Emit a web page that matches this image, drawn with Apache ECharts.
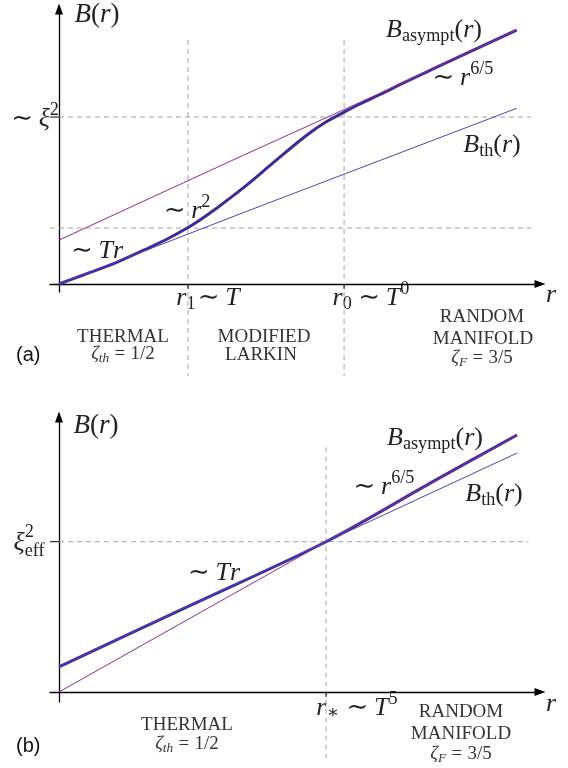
<!DOCTYPE html>
<html>
<head>
<meta charset="utf-8">
<script src="https://cdn.jsdelivr.net/npm/echarts@6/dist/echarts.min.js"></script>
<style>
  html, body { margin: 0; padding: 0; background: #fff; }
  #chart { width: 568px; height: 768px; }
</style>
</head>
<body>
<div id="chart"></div>
<script>
// ---------- Panel (a): thermal -> modified Larkin -> random manifold ----------
// r in units of r1, B in units of xi^2
const aCrossover = [
  [0, 0], [0.188, 0.054], [0.447, 0.130], [0.705, 0.220], [0.835, 0.268],
  [0.99, 0.334], [1.093, 0.384], [1.222, 0.454], [1.351, 0.529], [1.481, 0.609],
  [1.661, 0.727], [1.920, 0.891], [2.075, 0.973], [2.217, 1.032], [2.333, 1.078],
  [2.488, 1.135], [2.695, 1.214], [2.9, 1.288], [3.2, 1.396], [3.548, 1.521]
];
const aAsymptote = [[0, 0.263], [1.403, 0.762], [2.488, 1.142], [3.548, 1.521]];
const aThermal = [[0, 0], [1.481, 0.443], [3.548, 1.052]];
const aTicksR = [1, 2.21];        // r1, r0
const aLevelXi = 1;               // ~ xi^2
const aLevelR1 = 0.335;           // B at r1

// ---------- Panel (b): thermal -> random manifold ----------
// r in units of r*, B in units of xi_eff^2
const bCrossover = [[0, 0.167], [0.5, 0.583], [1, 1], [1.4, 1.4], [1.715, 1.71]];
const bAsymptote = [[0, 0], [1, 1], [1.715, 1.71]];
const bThermal = [[0, 0.167], [1, 1], [1.715, 1.59]];
const bTicksR = [1];              // r*
const bLevelXi = 1;               // xi_eff^2

// guide segments: [x1, y1, x2, y2, kind]  kind 0 = dashed, 1 = r tick, 2 = B tick
const aGuides = [
  [0, aLevelXi, 3.66, aLevelXi, 0],
  [-0.07, aLevelR1, 3.66, aLevelR1, 0],
  [aTicksR[0], 1.461, aTicksR[0], -0.551, 0],
  [aTicksR[1], 1.461, aTicksR[1], -0.551, 0],
  [aTicksR[0], 0, 0, 0, 1],
  [aTicksR[1], 0, 0, 0, 1],
  [aLevelXi, 0, 0, 0, 2]
];
const bGuides = [
  [0, bLevelXi, 1.757, bLevelXi, 0],
  [bTicksR[0], 1.627, bTicksR[0], -0.467, 0],
  [bTicksR[0], 0, 0, 0, 1],
  [bLevelXi, 0, 0, 0, 2]
];

const THICK = '#3b2d95';
const ASYM = '#932a92';
const THERM = '#4a46b4';
const SERIF = '"Liberation Serif", "DejaVu Serif", serif';
const SANS = '"Liberation Sans", Arial, sans-serif';

function renderGuide(params, api) {
  const kind = api.value(4);
  if (kind === 0) {
    const p1 = api.coord([api.value(0), api.value(1)]);
    const p2 = api.coord([api.value(2), api.value(3)]);
    return { type: 'line', silent: true,
      shape: { x1: p1[0], y1: p1[1], x2: p2[0], y2: p2[1] },
      style: { stroke: '#a3a3a3', lineWidth: 1, lineDash: [5, 4] } };
  }
  if (kind === 1) {
    const p = api.coord([api.value(0), 0]);
    return { type: 'line', silent: true,
      shape: { x1: p[0], y1: p[1], x2: p[0], y2: p[1] + 5 },
      style: { stroke: '#000', lineWidth: 1 } };
  }
  const p = api.coord([0, api.value(0)]);
  return { type: 'line', silent: true,
    shape: { x1: p[0] - 9, y1: p[1], x2: p[0], y2: p[1] },
    style: { stroke: '#000', lineWidth: 1 } };
}

function axisPair(gi, xmin, xmax, ymin, ymax) {
  const line = { onZero: true, symbol: ['none', 'triangle'], symbolSize: [8, 11],
                 lineStyle: { color: '#000', width: 1.3 } };
  return {
    x: { gridIndex: gi, type: 'value', min: xmin, max: xmax, axisLine: line,
         axisTick: { show: false }, axisLabel: { show: false }, splitLine: { show: false } },
    y: { gridIndex: gi, type: 'value', min: ymin, max: ymax, axisLine: line,
         axisTick: { show: false }, axisLabel: { show: false }, splitLine: { show: false } }
  };
}
const axA = axisPair(0, -0.07, 3.729, -0.0479, 1.647);
const axB = axisPair(1, -0.0337, 1.801, -0.0667, 1.83);

function curve(idx, data, color, width, z) {
  return { type: 'line', xAxisIndex: idx, yAxisIndex: idx, data: data,
    showSymbol: false, smooth: width > 2 ? 0.3 : false, z: z, silent: true,
    lineStyle: { color: color, width: width } };
}

// ---------- math-style text built from measured runs ----------
const measureCtx = document.createElement('canvas').getContext('2d');
function fontFor(italic, size, family) {
  return (italic ? 'italic ' : '') + size.toFixed(1) + 'px ' + family;
}
function mathLabel(cx, cy, size, parts, opts) {
  opts = opts || {};
  const family = opts.family || SERIF;
  const fill = opts.fill || '#222';
  const runs = [];
  let w = 0;
  parts.forEach(function (p) {
    if (!Array.isArray(p)) { w += p.g * size; return; }
    const text = p[0], italic = !!p[1], scale = p[2] || 1, dy = p[3] || 0, noAdv = p[4];
    const font = fontFor(italic, size * scale, family);
    measureCtx.font = font;
    const tw = measureCtx.measureText(text).width;
    runs.push({ text: text, font: font, x: w, dy: dy * size });
    if (!noAdv) w += tw;
  });
  const x0 = opts.left != null ? opts.left : cx - w / 2;
  return runs.map(function (r) {
    return { type: 'text', silent: true, x: x0 + r.x, y: cy + r.dy,
      style: { text: r.text, font: r.font, fill: fill, align: 'left', verticalAlign: 'middle' } };
  });
}

const M = 26, C = 19;
const SUP = 0.7, UP = -0.34, DN = 0.25;
const sim = [['∼'], { g: 0.22 }];
const lblBr = [['B', 1], ['('], ['r', 1], [')']];
const lblAsym = [['B', 1], ['asympt', 0, SUP, DN], ['('], ['r', 1], [')']];
const lblTh = [['B', 1], ['th', 0, SUP, DN], ['('], ['r', 1], [')']];
const lbl65 = sim.concat([['r', 1], ['6/5', 0, SUP, UP]]);
const lblTr = sim.concat([['T', 1], ['r', 1]]);
const zetaTh = [['ζ', 1], ['th', 1, SUP, DN], { g: 0.28 }, ['='], { g: 0.28 }, ['1/2']];
const zetaF = [['ζ', 1], ['F', 1, SUP, DN], { g: 0.28 }, ['='], { g: 0.28 }, ['3/5']];
const grey = { fill: '#333' };

const texts = [].concat(
  // panel (a)
  mathLabel(97, 15, 27, lblBr),
  mathLabel(35, 119, M, sim.concat([['ξ', 1], ['2', 0, SUP, UP]])),
  mathLabel(97, 251, M, lblTr),
  mathLabel(187, 211, M, sim.concat([['r', 1], ['2', 0, SUP, UP]])),
  mathLabel(208, 298, M, [['r', 1], ['1', 0, SUP, DN], { g: 0.08 }, ['∼'], { g: 0.22 }, ['T', 1]]),
  mathLabel(371, 298, M, [['r', 1], ['0', 0, SUP, DN], { g: 0.25 }, ['∼'], { g: 0.22 }, ['T', 1], ['0', 0, SUP, UP]]),
  mathLabel(551, 295, M, [['r', 1]]),
  mathLabel(434, 30, M, lblAsym),
  mathLabel(463, 78, M, lbl65),
  mathLabel(492, 145, M, lblTh),
  mathLabel(123, 337, C, [['THERMAL']], grey),
  mathLabel(123, 354, C, zetaTh, grey),
  mathLabel(264, 337, C, [['MODIFIED']], grey),
  mathLabel(261, 355, C, [['LARKIN']], grey),
  mathLabel(482, 317, C, [['RANDOM']], grey),
  mathLabel(483, 339, C, [['MANIFOLD']], grey),
  mathLabel(482, 358, C, zetaF, grey),
  mathLabel(0, 355, 20, [['(a)']], { family: SANS, left: 16, fill: '#111' }),
  // panel (b)
  mathLabel(96, 426, 27, lblBr),
  mathLabel(29, 543, M, [['ξ', 1], ['2', 0, SUP, -0.4, true], ['eff', 0, SUP, 0.3]]),
  mathLabel(214, 573, M, lblTr),
  mathLabel(357, 708, M, [['r', 1], ['∗', 0, SUP, 0.2], { g: 0.3 }, ['∼'], { g: 0.22 }, ['T', 1], ['5', 0, SUP, UP]]),
  mathLabel(551, 704, M, [['r', 1]]),
  mathLabel(435, 438, M, lblAsym),
  mathLabel(384, 487, M, lbl65),
  mathLabel(494, 494, M, lblTh),
  mathLabel(187, 725, C, [['THERMAL']], grey),
  mathLabel(187, 744, C, zetaTh, grey),
  mathLabel(461, 712, C, [['RANDOM']], grey),
  mathLabel(461, 734, C, [['MANIFOLD']], grey),
  mathLabel(461, 754, C, zetaF, grey),
  mathLabel(0, 746, 20, [['(b)']], { family: SANS, left: 16, fill: '#111' })
);

const chart = echarts.init(document.getElementById('chart'), null, { renderer: 'canvas' });
chart.setOption({
  animation: false,
  backgroundColor: '#fff',
  grid: [
    { left: 50, right: 28, top: 9, bottom: 476, containLabel: false, outerBoundsMode: 'none' },
    { left: 50, right: 28, top: 417, bottom: 66, containLabel: false, outerBoundsMode: 'none' }
  ],
  xAxis: [axA.x, axB.x],
  yAxis: [axA.y, axB.y],
  series: [
    { type: 'custom', xAxisIndex: 0, yAxisIndex: 0, data: aGuides, renderItem: renderGuide,
      encode: { x: [0, 2], y: [1, 3] }, z: 1, silent: true, clip: false },
    curve(0, aCrossover, THICK, 3, 2),
    curve(0, aAsymptote, ASYM, 1, 3),
    curve(0, aThermal, THERM, 1, 3),
    { type: 'custom', xAxisIndex: 1, yAxisIndex: 1, data: bGuides, renderItem: renderGuide,
      encode: { x: [0, 2], y: [1, 3] }, z: 1, silent: true, clip: false },
    curve(1, bCrossover, THICK, 3, 2),
    curve(1, bAsymptote, ASYM, 1, 3),
    curve(1, bThermal, THERM, 1, 3)
  ],
  graphic: { elements: texts }
});
</script>
</body>
</html>
